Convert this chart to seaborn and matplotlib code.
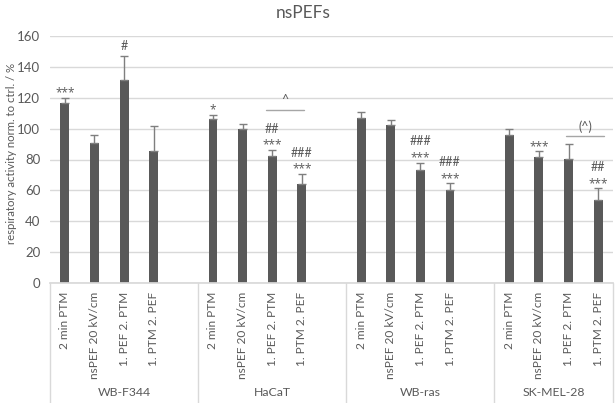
import matplotlib
matplotlib.use("Agg")
import matplotlib.pyplot as plt
from matplotlib.lines import Line2D
import seaborn as sns
import pandas as pd
import numpy as np

# cell lines and treatments
groups = ["WB-F344", "HaCaT", "WB-ras", "SK-MEL-28"]
treatments = ["2 min PTM", "nsPEF 20 kV/cm", "1. PEF 2. PTM", "1. PTM 2. PEF"]

# mean respiratory activity (% of control), one list per cell line
wb_f344 = [116.5, 90.7, 131.6, 85.4]
hacat = [106.0, 100.0, 82.0, 64.1]
wb_ras = [107.1, 102.1, 73.1, 60.2]
sk_mel_28 = [95.9, 81.5, 80.4, 53.7]

# upper error (SD / SEM)
wb_f344_err = [3.2, 5.4, 15.2, 16.1]
hacat_err = [3.0, 2.8, 4.0, 6.4]
wb_ras_err = [3.9, 3.7, 4.9, 4.3]
sk_mel_28_err = [3.5, 3.7, 9.5, 7.6]

# significance marks: (vs. ctrl, vs. single treatment)
wb_f344_sig = [("***", ""), ("", ""), ("", "#"), ("", "")]
hacat_sig = [("*", ""), ("", ""), ("***", "##"), ("***", "###")]
wb_ras_sig = [("", ""), ("", ""), ("***", "###"), ("***", "###")]
sk_mel_28_sig = [("", ""), ("***", ""), ("", ""), ("***", "##")]

# brackets between combined treatments (group, label, height)
brackets = [("HaCaT", "^", 112.3), ("SK-MEL-28", "(^)", 95.0)]

values = [wb_f344, hacat, wb_ras, sk_mel_28]
errors = [wb_f344_err, hacat_err, wb_ras_err, sk_mel_28_err]
sigs = [wb_f344_sig, hacat_sig, wb_ras_sig, sk_mel_28_sig]

rows = []
order = []
for gi, g in enumerate(groups):
    for ti, t in enumerate(treatments):
        key = f"{g}|{t}"
        order.append(key)
        rows.append({"key": key, "group": g, "treatment": t,
                     "value": values[gi][ti], "err": errors[gi][ti],
                     "sig1": sigs[gi][ti][0], "sig2": sigs[gi][ti][1]})
    if gi < len(groups) - 1:
        order.append(f"gap{gi}")  # empty slot between cell lines
df = pd.DataFrame(rows)
df["pos"] = [order.index(k) for k in df["key"]]

GREY = "#595959"
LIGHT = "#d9d9d9"

sns.set_theme(style="white")
plt.rcParams['font.family'] = ['Lato', 'DejaVu Sans']

fig = plt.figure(figsize=(6.15, 4.03), dpi=100)
ax = fig.add_axes([50 / 615, 1 - 283.3 / 403, 563 / 615, 247.6 / 403])

sns.barplot(data=df, x="key", y="value", order=order, color=GREY,
            saturation=1, width=0.3, errorbar=None, linewidth=0, ax=ax)
ax.errorbar(df["pos"], df["value"], yerr=[np.zeros(len(df)), df["err"]],
            fmt="none", ecolor="#7f7f7f", elinewidth=1, capsize=3, capthick=1)

ax.set_ylim(0, 160)
ax.set_xlim(-0.5, len(order) - 0.5)
ax.set_yticks(range(0, 161, 20))
ax.yaxis.grid(True, color=LIGHT, lw=1)
ax.set_axisbelow(True)
for s in ["left", "right", "top"]:
    ax.spines[s].set_visible(False)
ax.spines["bottom"].set_color(LIGHT)
ax.tick_params(axis="y", length=0, pad=7, labelsize=9.5, labelcolor=GREY)
ax.set_xticks(df["pos"])
ax.set_xticklabels(df["treatment"], rotation=90, fontsize=8.6, color=GREY)
ax.tick_params(axis="x", length=0, pad=6)
ax.set_xlabel("")
ax.set_ylabel("")

# group labels and separators under the axis
xtrans = ax.get_xaxis_transform()
bottom = -(403 - 283.3) / 247.6
start = -0.5
for gi, g in enumerate(groups):
    n = len(treatments) + (1 if gi < len(groups) - 1 else 0)
    ax.add_line(Line2D([start, start], [0, bottom], transform=xtrans,
                       color=LIGHT, lw=1, clip_on=False))
    ax.text(start + n / 2, -0.443, g, transform=xtrans, ha="center",
            va="center", fontsize=8.8, color=GREY)
    start += n
ax.add_line(Line2D([start, start], [0, bottom], transform=xtrans,
                   color=LIGHT, lw=1, clip_on=False))

# significance marks
for _, r in df.iterrows():
    top = r["value"] + r["err"]
    if r["sig1"]:
        ax.annotate(r["sig1"], xy=(r["pos"], top), xytext=(0, -1),
                    textcoords="offset points", ha="center", va="bottom",
                    fontsize=8.5, color=GREY, family=["Open Sans", "DejaVu Sans"])
    if r["sig2"]:
        off = 11 if r["sig1"] else 3
        ax.annotate(r["sig2"], xy=(r["pos"], top), xytext=(0, off),
                    textcoords="offset points", ha="center", va="bottom",
                    fontsize=9, color=GREY)

# brackets
for g, label, yb in brackets:
    sub = df[df["group"] == g]
    p3 = sub[sub["treatment"] == treatments[2]]["pos"].iloc[0]
    p4 = sub[sub["treatment"] == treatments[3]]["pos"].iloc[0]
    x0, x1 = (p3 - 0.22, p4 + 0.07) if g == "HaCaT" else (p3 - 0.07, p4 + 0.2)
    ax.plot([x0, x1], [yb, yb], color="#a6a6a6", lw=1)
    ax.text((x0 + x1) / 2, yb + 2, label, ha="center", va="bottom",
            fontsize=9, color=GREY)

fig.text(303 / 615, 1 - 13 / 403, "nsPEFs", ha="center", va="center",
         fontsize=12.5, color=GREY)
fig.text(12 / 615, 1 - 153 / 403, "respiratory activity norm. to ctrl. / %",
         rotation=90, ha="center", va="center", fontsize=8.2, color=GREY)

fig.savefig("out.png", dpi=100)
